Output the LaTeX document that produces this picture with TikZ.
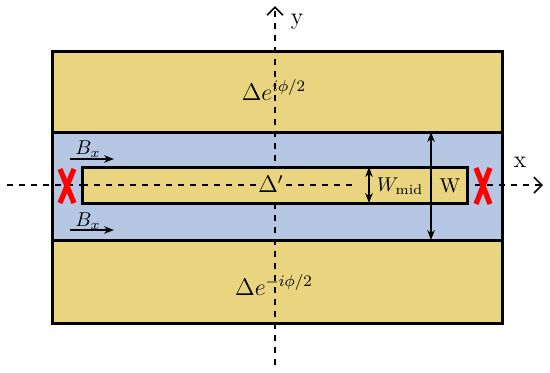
\documentclass[tikz,border=0pt]{standalone}
\usepackage{amsmath,amssymb,amsfonts}
\usepackage{xcolor}
\usepackage{tikz}
\usetikzlibrary{arrows.meta,positioning,calc}

\definecolor{gapgold}{RGB}{233,212,128}
\definecolor{wireblue}{RGB}{182,199,228}

\begin{document}
\begin{tikzpicture}[x=0.5pt,y=-0.5pt,
  region/.style={draw, line width=1.5pt},
  axis/.style={dashed, line width=0.8pt, -{Straight Barb[length=4pt]}},
  dimarrow/.style={line width=0.8pt, {Stealth[length=5pt]}-{Stealth[length=5pt]}},
  fieldarrow/.style={line width=0.8pt, -{Stealth[length=5pt]}},
  cross/.style={red, line width=2.6pt}]
\useasboundingbox (0,0) rectangle (550,372);

% layers
\fill[wireblue] (52,132) rectangle (502,240);
\draw[region, fill=gapgold] (52,51) rectangle (502,132);
\draw[region, fill=gapgold] (52,240) rectangle (502,323);
\draw[region] (52,51) rectangle (502,323);

% axes
\coordinate (xs) at (7,185);
\coordinate (xe) at (543,185);
\draw[axis] (xs) -- (xe);
\coordinate (ys) at (275,365);
\coordinate (ye) at (275,6);
\draw[axis] (ys) -- (ye);

% middle strip
\draw[region, fill=gapgold] (82,167) rectangle (467,203);
\coordinate (ms) at (82,185);
\coordinate (me) at (357,185);
\draw[dashed, line width=0.8pt] (ms) -- (me);

\node (ylab) at (297,22) {\large y};
\node (xlab) at (520,162) {\large x};

\node (top) at (274,90) {\large $\Delta e^{i\phi/2}$};
\node (bot) at (274,285) {\large $\Delta e^{-i\phi/2}$};
\node[fill=gapgold, inner sep=1pt] (mid) at (271,184) {\large $\Delta'$};

% widths
\coordinate (wmt) at (369,167);
\coordinate (wmb) at (369,203);
\draw[dimarrow] (wmt) -- (wmb);
\node (wmid) at (400,186) {$W_{\text{mid}}$};
\coordinate (wt) at (431,132);
\coordinate (wb) at (431,240);
\draw[dimarrow] (wt) -- (wb);
\node (wlab) at (450,186) {W};

% fields
\coordinate (bts) at (70,159);
\coordinate (bte) at (114,159);
\draw[fieldarrow] (bts) -- (bte);
\node (bxt) at (88,149) {$B_x$};
\coordinate (bbs) at (70,230);
\coordinate (bbe) at (114,230);
\draw[fieldarrow] (bbs) -- (bbe);
\node (bxb) at (88,221) {$B_x$};

% contacts
\draw[cross] (60,169) -- (74,203) (74,169) -- (60,203);
\draw[cross] (476,168) -- (490,204) (490,168) -- (476,204);
\end{tikzpicture}
\end{document}
